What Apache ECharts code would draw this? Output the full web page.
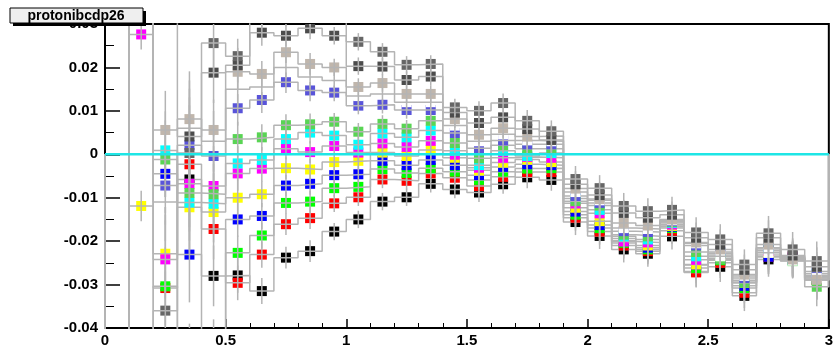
<!DOCTYPE html>
<html>
<head>
<meta charset="utf-8">
<script src="https://cdn.jsdelivr.net/npm/echarts@6/dist/echarts.min.js"></script>
<style>
  html, body { margin: 0; padding: 0; background: #ffffff; }
  #chart { width: 836px; height: 348px; }
</style>
</head>
<body>
<div id="chart"></div>
<script>
// Bin centres (bin width 0.1) shared by all histograms
const binCenters = [0.05, 0.15, 0.25, 0.35, 0.45, 0.55, 0.65, 0.75, 0.85, 0.95,
                    1.05, 1.15, 1.25, 1.35, 1.45, 1.55, 1.65, 1.75, 1.85, 1.95,
                    2.05, 2.15, 2.25, 2.35, 2.45, 2.55, 2.65, 2.75, 2.85, 2.95];
const binWidth = 0.1;

// Per-bin statistical error (vertical error bars)
const binErrors = [0.0, 0.0035, 0.009, 0.011, 0.007, 0.004, 0.003, 0.0025, 0.0025, 0.002,
                   0.002, 0.002, 0.002, 0.002, 0.002, 0.0022, 0.0022, 0.0025, 0.0025, 0.003,
                   0.003, 0.003, 0.003, 0.003, 0.0035, 0.0035, 0.0035, 0.004, 0.004, 0.0045];

// Histogram contents, one array per colour index
const hBlack = [-0.06, -0.06, -0.05, -0.0058, -0.0280, -0.0279, -0.0315, -0.0238, -0.0223, -0.0178,
                -0.0150, -0.0109, -0.0099, -0.0068, -0.0081, -0.0088, -0.0069, -0.0053, -0.0059, -0.0156,
                -0.0188, -0.0219, -0.0229, -0.0189, -0.0270, -0.0259, -0.0326, -0.0242, -0.0243, -0.0290];
const hRed = [-0.06, 0.05, -0.0308, -0.0023, -0.0172, -0.0296, -0.0231, -0.0161, -0.0147, -0.0113,
              -0.0099, -0.0058, -0.0061, -0.0044, -0.0054, -0.0073, -0.0052, -0.0041, -0.0041, -0.0146,
              -0.0178, -0.0210, -0.0223, -0.0176, -0.0272, -0.0250, -0.0319, -0.0236, -0.0242, -0.0289];
const hGreen = [-0.06, -0.06, -0.0304, -0.05, -0.05, -0.0227, -0.0187, -0.0112, -0.0109, -0.0078,
                -0.0075, -0.0034, -0.0043, -0.0032, -0.0040, -0.0059, -0.0040, -0.0033, -0.0032, -0.0139,
                -0.0170, -0.0204, -0.0219, -0.0170, -0.0262, -0.0244, -0.0308, -0.0232, -0.0242, -0.0289];
const hBlue = [-0.06, 0.05, -0.0045, -0.0231, -0.045, -0.0150, -0.0142, -0.0072, -0.0068, -0.0048,
               -0.0046, -0.0015, -0.0025, -0.0013, -0.0025, -0.0048, -0.0029, -0.0023, -0.0025, -0.0132,
               -0.0163, -0.0199, -0.0215, -0.0167, -0.0255, -0.0240, -0.0303, -0.0236, -0.0240, -0.0285];
const hYellow = [-0.06, -0.0119, -0.0229, -0.0122, -0.0133, -0.0100, -0.0092, -0.0032, -0.0035, -0.0018,
                 -0.0015, 0.0004, -0.0004, 0.0010, -0.0008, -0.0037, -0.0019, -0.0012, -0.0018, -0.0123,
                 -0.0154, -0.0194, -0.0210, -0.0165, -0.0254, -0.0236, -0.0296, -0.0226, -0.0238, -0.0282];
const hMagenta = [-0.06, 0.0276, -0.0242, -0.0068, -0.0073, -0.0044, -0.0033, 0.0013, 0.0005, 0.0019,
                  0.0004, 0.0025, 0.0017, 0.0031, -0.0001, -0.0031, -0.0008, -0.0006, -0.0008, -0.0113,
                  -0.0136, -0.0201, -0.0203, -0.0162, -0.0243, -0.0232, -0.0294, -0.0222, -0.0236, -0.0279];
const hCyan = [-0.06, 0.05, 0.0009, -0.0111, -0.0114, -0.0021, -0.0013, 0.0035, 0.0050, 0.0043,
               0.0022, 0.0048, 0.0039, 0.0055, 0.0008, -0.0025, 0.0008, -0.0004, 0.0003, -0.0102,
               -0.0128, -0.0189, -0.0196, -0.0158, -0.0235, -0.0228, -0.0290, -0.0218, -0.0244, -0.0275];
const hLeaf = [-0.06, -0.06, -0.0012, -0.0089, -0.0092, 0.0035, 0.0039, 0.0067, 0.0069, 0.0075,
               0.0052, 0.0070, 0.0059, 0.0077, 0.0026, -0.0009, 0.0021, 0.0013, 0.0013, -0.0108,
               -0.0118, -0.0185, -0.0189, -0.0156, -0.0225, -0.0242, -0.0296, -0.0215, -0.0246, -0.0305];
const hSlate = [-0.06, 0.05, -0.0072, 0.0021, -0.0004, 0.0106, 0.0125, 0.0166, 0.0147, 0.0142,
                0.0112, 0.0114, 0.0102, 0.0102, 0.0049, 0.0014, 0.0032, 0.0023, 0.0023, -0.0096,
                -0.0112, -0.0177, -0.0179, -0.0154, -0.0210, -0.0225, -0.0285, -0.0215, -0.0240, -0.0270];
const hWhite = [-0.06, 0.05, -0.0110, 0.0060, 0.0030, 0.0150, 0.0155, 0.0200, 0.0178, 0.0170,
                0.0134, 0.0139, 0.0120, 0.0120, 0.0066, 0.0030, 0.0046, 0.0032, 0.0030, -0.0087,
                -0.0106, -0.0170, -0.0172, -0.0152, -0.0205, -0.0235, -0.0280, -0.0227, -0.0245, -0.0285];
const hTan = [-0.06, 0.05, 0.0056, 0.0081, 0.0056, 0.0190, 0.0185, 0.0235, 0.0208, 0.0200,
              0.0155, 0.0164, 0.0139, 0.0139, 0.0081, 0.0045, 0.0060, 0.0041, 0.0042, -0.0079,
              -0.0103, -0.0158, -0.0164, -0.0150, -0.0203, -0.0219, -0.0277, -0.0208, -0.0242, -0.0289];
const hCharcoal = [-0.06, 0.05, 0.04, 0.0041, 0.0188, 0.0205, 0.0280, 0.0273, 0.0290, 0.0273,
                   0.0203, 0.0202, 0.0171, 0.0179, 0.0096, 0.0072, 0.0085, 0.0058, 0.0033, -0.0069,
                   -0.0094, -0.0135, -0.0146, -0.0139, -0.0192, -0.0208, -0.0266, -0.0192, -0.0233, -0.0259];
const hGray = [-0.06, -0.06, -0.0360, 0.0003, 0.0256, 0.0226, 0.032, 0.032, 0.032, 0.032,
               0.0259, 0.0236, 0.0206, 0.0208, 0.0108, 0.0100, 0.0118, 0.0077, 0.0053, -0.0057,
               -0.0078, -0.0119, -0.0131, -0.0128, -0.0180, -0.0196, -0.0254, -0.0182, -0.0219, -0.0246];

const xTicks = { min: 0, max: 3, step: 0.5 };
const yTicks = { min: -0.04, max: 0.03, step: 0.01 };
const histTitle = 'protonibcdp26';

// Drawing order follows the colour index (later ones on top)
const histograms = [
  { values: hBlack,    color: '#000000' },
  { values: hRed,      color: '#ff0000' },
  { values: hGreen,    color: '#00ff00' },
  { values: hBlue,     color: '#0000ff' },
  { values: hYellow,   color: '#ffff00' },
  { values: hMagenta,  color: '#ff00ff' },
  { values: hCyan,     color: '#00ffff' },
  { values: hLeaf,     color: '#59d454' },
  { values: hSlate,    color: '#5954d9' },
  { values: hWhite,    color: '#ffffff' },
  { values: hTan,      color: '#c0b6ac' },
  { values: hCharcoal, color: '#4c4c4c' },
  { values: hGray,     color: '#666666' }
];

const OUTLINE = '#b4b4b4';
const MARK = 10;

// Histogram outline: starts and ends on the baseline, steps at bin edges
function outlinePoints(values) {
  const pts = [[binCenters[0] - binWidth / 2, 0]];
  values.forEach((v, i) => {
    const lo = binCenters[i] - binWidth / 2;
    const hi = binCenters[i] + binWidth / 2;
    pts.push([lo, v], [hi, v]);
  });
  pts.push([binCenters[binCenters.length - 1] + binWidth / 2, 0]);
  return pts;
}

function markerRenderer(color) {
  return function (params, api) {
    const x = api.value(0), y = api.value(1), e = api.value(2);
    const c = api.coord([x, y]);
    const top = api.coord([x, y + e]);
    const bot = api.coord([x, y - e]);
    return {
      type: 'group',
      children: [
        { type: 'rect',
          shape: { x: c[0] - MARK / 2, y: c[1] - MARK / 2, width: MARK, height: MARK },
          style: { fill: color } },
        { type: 'line',
          shape: { x1: c[0], y1: top[1], x2: c[0], y2: bot[1] },
          style: { stroke: OUTLINE, lineWidth: 1.5 } }
      ]
    };
  };
}

const series = [];
histograms.forEach((h, k) => {
  series.push({
    type: 'custom',
    coordinateSystem: 'cartesian2d',
    clip: true,
    z: 3 + 2 * k,
    renderItem: markerRenderer(h.color),
    encode: { x: 0, y: 1 },
    data: binCenters.map((x, i) => [x, h.values[i], binErrors[i]]),
    silent: true
  });
  series.push({
    type: 'line',
    z: 4 + 2 * k,
    clip: true,
    symbol: 'none',
    silent: true,
    lineStyle: { color: OUTLINE, width: 1.5 },
    data: outlinePoints(h.values)
  });
});

// Reference line at zero
series.push({
  type: 'line',
  z: 100,
  symbol: 'none',
  silent: true,
  lineStyle: { color: '#1ee6e6', width: 2.5 },
  data: [[xTicks.min, 0], [xTicks.max, 0]]
});

const labelFont = { fontFamily: '"Liberation Sans", Arial, sans-serif', fontWeight: 'bold', fontSize: 15, color: '#000' };

const chart = echarts.init(document.getElementById('chart'), null, { renderer: 'canvas' });
chart.setOption({
  animation: false,
  backgroundColor: '#ffffff',
  grid: { left: 105, right: 7, top: 24, bottom: 20, show: true, borderColor: '#000', borderWidth: 2, containLabel: false },
  xAxis: {
    type: 'value', min: xTicks.min, max: xTicks.max, interval: xTicks.step,
    axisLine: { show: true, onZero: false, lineStyle: { color: '#000', width: 2 } },
    axisTick: { show: true, inside: true, length: 9, lineStyle: { color: '#000', width: 1.5 } },
    minorTick: { show: true, splitNumber: 5, length: 5, lineStyle: { color: '#000', width: 1 } },
    splitLine: { show: false },
    axisLabel: Object.assign({ margin: 5, showMinLabel: true, showMaxLabel: true,
      formatter: v => String(Math.round(v * 10) / 10) }, labelFont)
  },
  yAxis: {
    type: 'value', min: yTicks.min, max: yTicks.max, interval: yTicks.step,
    axisLine: { show: true, onZero: false, lineStyle: { color: '#000', width: 2 } },
    axisTick: { show: true, inside: true, length: 15, lineStyle: { color: '#000', width: 1.5 } },
    minorTick: { show: true, splitNumber: 2, length: 9, lineStyle: { color: '#000', width: 1 } },
    splitLine: { show: false },
    axisLabel: Object.assign({ margin: 7, showMinLabel: true, showMaxLabel: true,
      formatter: v => String(Math.round(v * 100) / 100) }, labelFont)
  },
  graphic: [
    { type: 'rect', z: 200, shape: { x: 13, y: 11, width: 133, height: 15 }, style: { fill: '#000' } },
    { type: 'rect', z: 201, shape: { x: 10, y: 8, width: 133, height: 15 }, style: { fill: '#efefef', stroke: '#000', lineWidth: 1 } },
    { type: 'text', z: 202, style: { text: histTitle, x: 76, y: 16, align: 'center', verticalAlign: 'middle',
      font: 'bold 14px "Liberation Sans", Arial, sans-serif', fill: '#000' } }
  ],
  series: series
});
</script>
</body>
</html>
